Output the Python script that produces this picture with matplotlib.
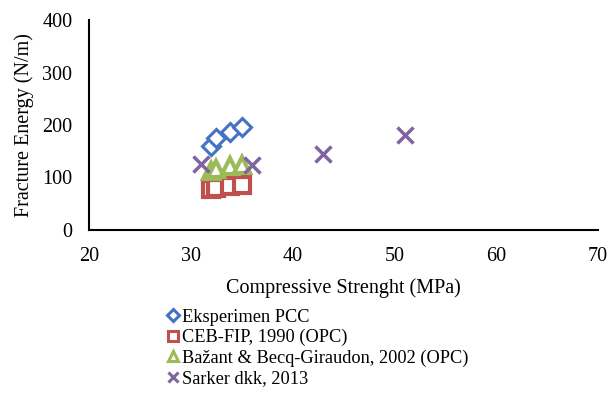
import matplotlib
matplotlib.use("Agg")
import matplotlib.pyplot as plt
from matplotlib.lines import Line2D

plt.rcParams["font.family"] = ["Liberation Serif", "DejaVu Serif"]

# Compressive strength (MPa) vs fracture energy (N/m)
pcc_fc = [32.0, 32.5, 33.8, 35.0]
pcc_gf = [160, 176, 186, 196]

ceb_fc = [32.0, 32.5, 33.8, 35.0]
ceb_gf = [78, 80, 83, 85]

bazant_fc = [32.0, 32.5, 33.8, 35.0]
bazant_gf = [113, 117, 121, 123]

sarker_fc = [31.0, 36.0, 43.0, 51.0]
sarker_gf = [125, 124, 144, 181]

series = [
    (pcc_fc, pcc_gf, "D", "#4472C4", 9, 2.2, "Eksperimen PCC"),
    (ceb_fc, ceb_gf, "s", "#C0504D", 12, 3, "CEB-FIP, 1990 (OPC)"),
    (bazant_fc, bazant_gf, "^", "#9BBB59", 11, 3, "Bažant & Becq-Giraudon, 2002 (OPC)"),
    (sarker_fc, sarker_gf, "x", "#8064A2", 12, 2.5, "Sarker dkk, 2013"),
]

fig = plt.figure(figsize=(6.16, 3.93), dpi=100)
ax = fig.add_axes([0.1445, 0.415, 0.8265, 0.534])

handles = []
for fc, gf, m, c, ms, mew, lab in series:
    ax.plot(fc, gf, m, ms=ms, mfc="white", mec=c, mew=mew, ls="none")
    # uniform small markers for the legend
    handles.append(Line2D([], [], marker=m, ls="none", ms=6.5, mfc="white",
                          mec=c, mew=2.2, label=lab))

ax.set_xlim(20, 70)
ax.set_ylim(0, 400)
ax.set_xticks(range(20, 71, 10))
ax.set_yticks(range(0, 401, 100))
ax.tick_params(length=0, labelsize=14.5, pad=12)
for s in ("top", "right"):
    ax.spines[s].set_visible(False)
for s in ("left", "bottom"):
    ax.spines[s].set_linewidth(1.5)
ax.set_xlabel("Compressive Strenght (MPa)", fontsize=14.5, labelpad=9)
ax.set_ylabel("Fracture Energy (N/m)", fontsize=14.5, labelpad=6)

fig.legend(handles=handles, loc="upper left", bbox_to_anchor=(0.255, 0.238),
           frameon=False, fontsize=13.2, handlelength=0.7, handletextpad=0.15,
           labelspacing=0.18, borderpad=0)

fig.savefig("out.png", dpi=100)
